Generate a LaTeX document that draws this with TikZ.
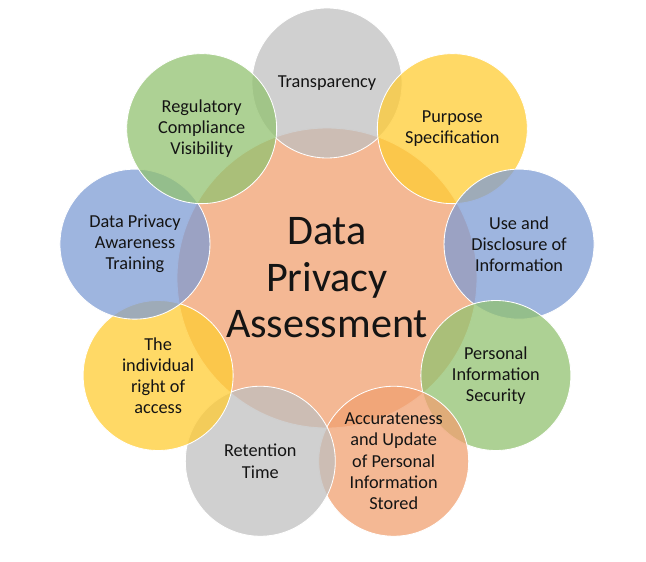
\documentclass[tikz,border=0pt]{standalone}
\usepackage{fontspec}
\setmainfont{Carlito}
\usepackage{xcolor}
\usepackage{tikz}

% Colores de relleno
\definecolor{cPeach}{RGB}{240,160,112}
\definecolor{cGray}{RGB}{192,192,192}
\definecolor{cYellow}{RGB}{255,204,51}
\definecolor{cBlue}{RGB}{126,156,212}
\definecolor{cGreen}{RGB}{146,194,112}
\definecolor{cText}{RGB}{20,20,20}

\tikzset{
  core/.style={circle, minimum size=7.5cm, inner sep=0pt, draw=white, line width=0.6pt,
    fill=cPeach, fill opacity=0.75, text opacity=1, text=cText, align=center,
    font=\fontsize{30}{33}\selectfont},
  sat/.style={circle, minimum size=3.75cm, inner sep=0pt, draw=white, line width=0.6pt,
    fill opacity=0.75, text opacity=1, text=cText, align=center,
    font=\fontsize{13}{15}\selectfont}
}

\begin{document}
\begin{tikzpicture}

\useasboundingbox (0,0) rectangle (16.15,14.025);

% Círculo central
\node[core] (dpa) at (8.175,7.075) {Data\\Privacy\\Assessment};

% Círculos exteriores
\node[sat, fill=cGray]   (transp)  at ([shift={(90:4.875)}]dpa.center)   {Transparency};
\node[sat, fill=cYellow] (purpose) at ([shift={(50:4.875)}]dpa.center)   {Purpose\\Specification};
\node[sat, fill=cBlue]   (usedisc) at ([shift={(10:4.875)}]dpa.center)   {Use and\\Disclosure of\\Information};
\node[sat, fill=cGreen]  (persec)  at ([shift={(-30:4.875)}]dpa.center)  {Personal\\Information\\Security};
\node[sat, fill=cPeach]  (accur)   at ([shift={(-70:4.875)}]dpa.center)  {Accurateness\\and Update\\of Personal\\Information\\Stored};
\node[sat, fill=cGray]   (retent)  at ([shift={(-110:4.875)}]dpa.center) {Retention\\Time};
\node[sat, fill=cYellow] (access)  at ([shift={(-150:4.875)}]dpa.center) {The\\individual\\right of\\access};
\node[sat, fill=cBlue]   (aware)   at ([shift={(170:4.875)}]dpa.center)  {Data Privacy\\Awareness\\Training};
\node[sat, fill=cGreen]  (regul)   at ([shift={(130:4.875)}]dpa.center)  {Regulatory\\Compliance\\Visibility};

\end{tikzpicture}
\end{document}
